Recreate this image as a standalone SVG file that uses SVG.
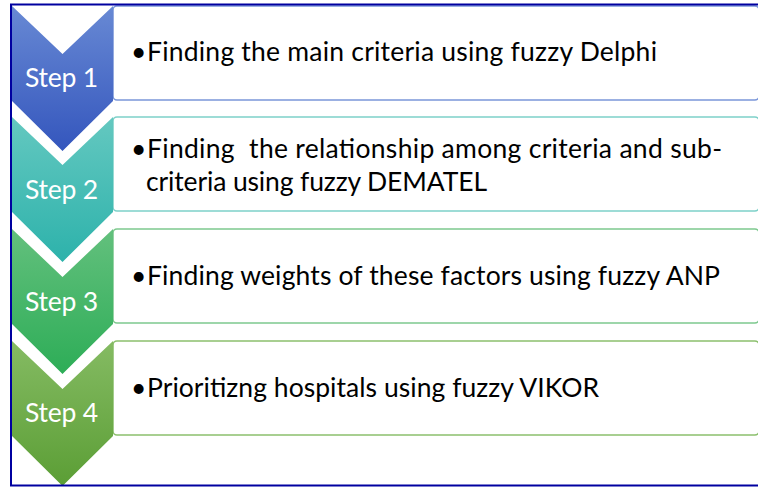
<svg xmlns="http://www.w3.org/2000/svg" width="758" height="487" viewBox="0 0 758 487">
<defs>
<linearGradient id="g1" x1="0" y1="0" x2="0" y2="1"><stop offset="0" stop-color="#6889d4"/><stop offset="1" stop-color="#3456bd"/></linearGradient>
<linearGradient id="g2" x1="0" y1="0" x2="0" y2="1"><stop offset="0" stop-color="#64c8c0"/><stop offset="1" stop-color="#2db2ab"/></linearGradient>
<linearGradient id="g3" x1="0" y1="0" x2="0" y2="1"><stop offset="0" stop-color="#63c07d"/><stop offset="1" stop-color="#2dad57"/></linearGradient>
<linearGradient id="g4" x1="0" y1="0" x2="0" y2="1"><stop offset="0" stop-color="#85bb63"/><stop offset="1" stop-color="#5b9e35"/></linearGradient>
</defs>
<style>
.box{fill:#ffffff;stroke-width:1.6}
.lbl{font-family:Lato,"Open Sans",sans-serif;font-size:26.5px;fill:#ffffff;text-anchor:middle}
.txt{font-family:Lato,"Open Sans",sans-serif;font-size:26.5px;fill:#000000}
.frame{fill:none;stroke:#0000a0;stroke-width:2}
</style>
<rect width="758" height="487" fill="#ffffff"/>
<g id="step1">
<rect class="box" x="113" y="6" width="646" height="94" rx="4" stroke="#7b97d9"/>
<polygon points="12,6 62.5,54 113,6 113,101 62.5,151 12,101" fill="url(#g1)"/>
<text class="lbl" x="61.5" y="87" textLength="73">Step 1</text>
<text class="txt" x="131" y="61">•</text>
<text class="txt" x="147" y="61" textLength="510" lengthAdjust="spacing">Finding the main criteria using fuzzy Delphi</text>
</g>
<g id="step2">
<rect class="box" x="113" y="117" width="646" height="94" rx="4" stroke="#7ed1c9"/>
<polygon points="12,117 62.5,165 113,117 113,212 62.5,262 12,212" fill="url(#g2)"/>
<text class="lbl" x="61.5" y="199" textLength="73">Step 2</text>
<text class="txt" x="131" y="158">•</text>
<text class="txt" x="147" y="158" textLength="575" lengthAdjust="spacing" xml:space="preserve">Finding  the relationship among criteria and sub-</text>
<text class="txt" x="146" y="191" textLength="341" lengthAdjust="spacing">criteria using fuzzy DEMATEL</text>
</g>
<g id="step3">
<rect class="box" x="113" y="229" width="646" height="94" rx="4" stroke="#7ec98f"/>
<polygon points="12,229 62.5,277 113,229 113,324 62.5,374 12,324" fill="url(#g3)"/>
<text class="lbl" x="61.5" y="311" textLength="73">Step 3</text>
<text class="txt" x="131" y="285">•</text>
<text class="txt" x="147" y="285" textLength="573" lengthAdjust="spacing">Finding weights of these factors using fuzzy ANP</text>
</g>
<g id="step4">
<rect class="box" x="113" y="341" width="646" height="94" rx="4" stroke="#8cc06e"/>
<polygon points="12,341 62.5,389 113,341 113,436 62.5,486 12,436" fill="url(#g4)"/>
<text class="lbl" x="61.5" y="422" textLength="73">Step 4</text>
<text class="txt" x="131" y="397">•</text>
<text class="txt" x="147" y="397" textLength="452" lengthAdjust="spacing">Prioritizng hospitals using fuzzy VIKOR</text>
</g>
<g id="connectors"></g>
<rect id="frame" class="frame" x="11" y="4.5" width="752" height="481"/>
</svg>
